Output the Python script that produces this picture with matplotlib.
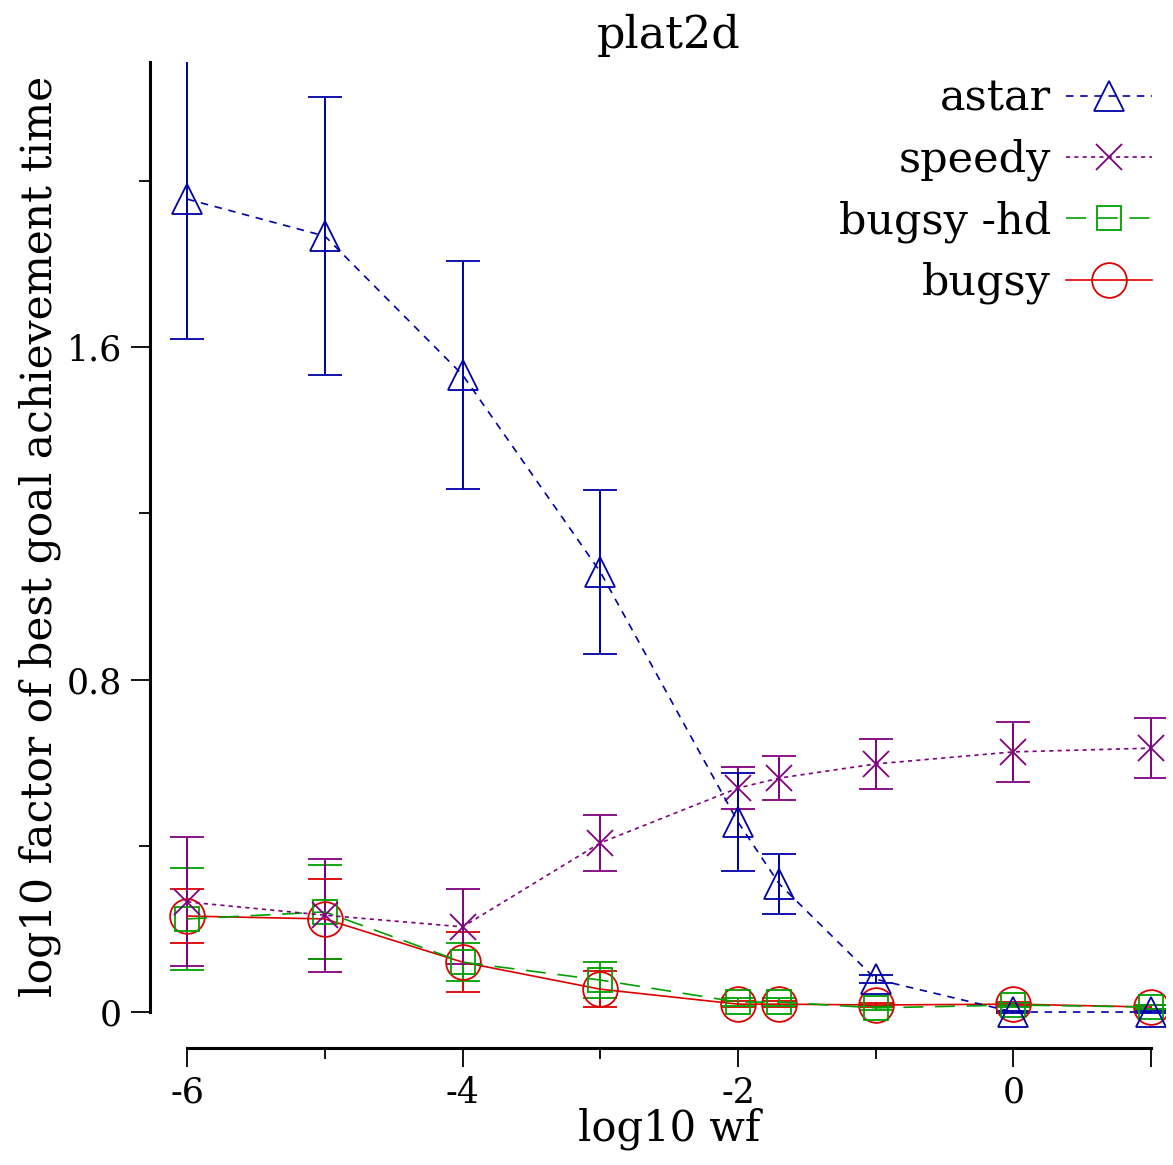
""" Best goal achievement time vs. weight factor on plat2d.
"""

import matplotlib
matplotlib.use('Agg')
import matplotlib.pyplot as plt
from matplotlib.ticker import FixedLocator


# ======================================================================================================================
wf = [-6, -5, -4, -3, -2, -1.7, -1, 0, 1]

astar = [1.956, 1.867, 1.533, 1.059, 0.457, 0.308, 0.079, 0.0, 0.0]
astar_err = [0.336, 0.335, 0.274, 0.198, 0.117, 0.072, 0.010, 0.003, 0.003]

speedy = [0.265, 0.233, 0.205, 0.407, 0.539, 0.563, 0.597, 0.626, 0.635]
speedy_err = [0.155, 0.136, 0.090, 0.067, 0.050, 0.052, 0.061, 0.072, 0.073]

bugsy_hd = [0.224, 0.241, 0.120, 0.077, 0.024, 0.024, 0.010, 0.017, 0.012]
bugsy_hd_err = [0.123, 0.114, 0.046, 0.043, 0.010, 0.010, 0.004, 0.004, 0.004]

bugsy = [0.231, 0.224, 0.120, 0.055, 0.019, 0.019, 0.017, 0.019, 0.012]
bugsy_err = [0.066, 0.097, 0.072, 0.043, 0.008, 0.008, 0.004, 0.004, 0.004]

plt.rcParams['font.family'] = ['DejaVu Serif']
plt.rcParams['font.size'] = 25

fig = plt.figure(figsize=(11.73, 11.65), dpi=100)
ax = fig.add_axes([0.1279, 0.1004, 0.8652, 0.8464])

series = [
    ('bugsy', bugsy, bugsy_err, '#dd0000', 'o', 25, '-'),
    ('bugsy -hd', bugsy_hd, bugsy_hd_err, '#00a000', 's', 17, (0, (12, 7))),
    ('speedy', speedy, speedy_err, '#800080', 'x', 19, (0, (2.5, 2.5))),
    ('astar', astar, astar_err, '#0000a8', '^', 21, (0, (4.5, 4))),
]

handles = {}
for name, y, e, c, m, ms, ls in series:
    h = ax.errorbar(wf, y, yerr=e, color=c, marker=m, ms=ms, mfc='none', mec=c, mew=1.3,
                    lw=1.2, ls=ls, capsize=12, elinewidth=1.4, capthick=1.4, label=name)
    handles[name] = h

order = ['astar', 'speedy', 'bugsy -hd', 'bugsy']
leg = ax.legend([handles[k][0] for k in order], order, loc='upper right', frameon=False,
                markerfirst=False, handlelength=2.0, handletextpad=0.35, fontsize=31,
                labelspacing=0.44, bbox_to_anchor=(1.013, 1.010), borderaxespad=0.2)

ax.set_xlim(-6.27, 1.1)
ax.set_ylim(-0.0866, 2.286)

for s in ['top', 'right']:
    ax.spines[s].set_visible(False)
ax.spines['left'].set_bounds(0, 2.286)
ax.spines['bottom'].set_bounds(-6, 1)
ax.spines['left'].set_linewidth(2.2)
ax.spines['bottom'].set_linewidth(2.2)

ax.yaxis.set_major_locator(FixedLocator([0, 0.8, 1.6]))
ax.yaxis.set_minor_locator(FixedLocator([0.4, 1.2, 2.0]))
ax.set_yticklabels(['0', '0.8', '1.6'])
ax.xaxis.set_major_locator(FixedLocator([-6, -4, -2, 0, 1]))
ax.xaxis.set_minor_locator(FixedLocator([-5, -3, -1]))
ax.set_xticklabels(['-6', '-4', '-2', '0', ''])

ax.tick_params(which='major', direction='out', length=14, width=1.3, labelsize=25, pad=6)
ax.tick_params(which='minor', direction='out', length=8, width=1.3)

ax.set_xlabel('log10 wf', fontsize=30, labelpad=-2, x=0.511)
ax.set_ylabel('log10 factor of best goal achievement time', fontsize=30.5, labelpad=4, y=0.519)
ax.set_title('plat2d', fontsize=32, pad=10, x=0.511)

fig.savefig('out.png', dpi=100)
